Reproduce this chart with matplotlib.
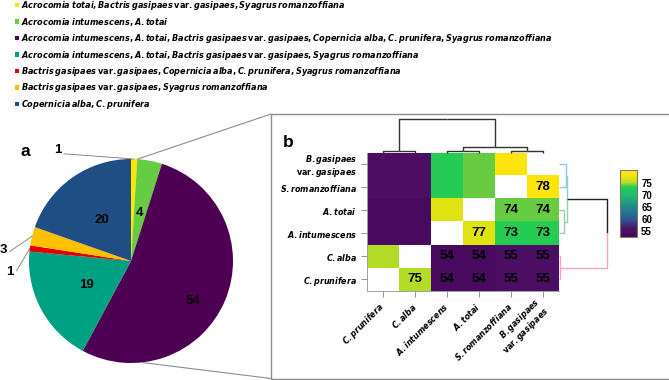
import matplotlib
matplotlib.use("Agg")
import matplotlib.pyplot as plt  # noqa: E402
import numpy as np  # noqa: E402
from matplotlib.colors import LinearSegmentedColormap  # noqa: E402
from matplotlib.patches import Rectangle, ConnectionPatch  # noqa: E402

W, H = 669, 380
NARROW = ["Liberation Sans Narrow", "Liberation Sans", "DejaVu Sans"]
plt.rcParams["font.family"] = NARROW
plt.rcParams["mathtext.fontset"] = "custom"
plt.rcParams["mathtext.it"] = "Liberation Sans Narrow:italic:bold"
plt.rcParams["mathtext.rm"] = "Liberation Sans Narrow:bold"
plt.rcParams["mathtext.bf"] = "Liberation Sans Narrow:bold"


def sp(parts):
    """Build one mathtext string from (text, italic) pieces."""
    out = []
    for txt, ital in parts:
        t = txt.replace(". ", ".").replace(", ", ",").replace(" ", r"\:")
        out.append((r"\mathit{" if ital else r"\mathrm{") + t + "}")
    return "$" + "".join(out) + "$"


BG = [("Bactris gasipaes", 1), (" var. ", 0), ("gasipaes", 1)]

# ---- panel a: shared accessions per species group ----
group_labels = [
    sp([("Acrocomia totai, ", 1)] + BG + [(", Syagrus romanzoffiana", 1)]),
    sp([("Acrocomia intumescens, A. totai", 1)]),
    sp([("Acrocomia intumescens, A. totai, ", 1)] + BG
       + [(", Copernicia alba, C. prunifera, Syagrus romanzoffiana", 1)]),
    sp([("Acrocomia intumescens, A. totai, ", 1)] + BG + [(", Syagrus romanzoffiana", 1)]),
    sp(BG + [(", Copernicia alba, C. prunifera, Syagrus romanzoffiana", 1)]),
    sp(BG + [(", Syagrus romanzoffiana", 1)]),
    sp([("Copernicia alba, C. prunifera", 1)]),
]
group_counts = [1, 4, 54, 19, 1, 3, 20]
group_colors = ["#ffe600", "#66cc44", "#4d0052", "#00a082", "#e00000", "#ffc000", "#1f4e85"]

# ---- panel b: pairwise similarity (%) ----
species = ["C. prunifera", "C. alba", "A. intumescens", "A. totai", "S. romanzoffiana", "B. gasipaes var. gasipaes"]
species_tick = [sp([("C. prunifera", 1)]), sp([("C. alba", 1)]), sp([("A. intumescens", 1)]),
                sp([("A. totai", 1)]), sp([("S. romanzoffiana", 1)]),
                sp([("B. gasipaes", 1)]) + "\n" + sp([("var. ", 0), ("gasipaes", 1)])]
sim_pairs = [
    ("C. prunifera", "C. alba", 75), ("C. prunifera", "A. intumescens", 54),
    ("C. prunifera", "A. totai", 54), ("C. prunifera", "S. romanzoffiana", 55),
    ("C. prunifera", "B. gasipaes var. gasipaes", 55),
    ("C. alba", "A. intumescens", 54), ("C. alba", "A. totai", 54),
    ("C. alba", "S. romanzoffiana", 55), ("C. alba", "B. gasipaes var. gasipaes", 55),
    ("A. intumescens", "A. totai", 77), ("A. intumescens", "S. romanzoffiana", 73),
    ("A. intumescens", "B. gasipaes var. gasipaes", 73),
    ("A. totai", "S. romanzoffiana", 74), ("A. totai", "B. gasipaes var. gasipaes", 74),
    ("S. romanzoffiana", "B. gasipaes var. gasipaes", 78),
]
# dendrograms: (child a, child b, relative height), scipy-like numbering
top_merges = [(0, 1, 0.03), (2, 3, 0.03), (4, 5, 0.03), (7, 8, 0.15), (6, 9, 1.0)]
right_merges = [(0, 1, 0.15), (2, 3, 0.11), (4, 5, 0.02), (6, 7, 0.17), (9, 8, 1.0)]
cbar_ticks = [55, 60, 65, 70, 75]

n = len(species)
S = np.full((n, n), np.nan)
for a, b, v in sim_pairs:
    i, j = species.index(a), species.index(b)
    S[i, j] = S[j, i] = v
M = S[::-1, :]  # rows shown in reverse order of columns


def fx(px):
    return px / W


def fy(py):
    return 1 - py / H


fig = plt.figure(figsize=(W / 100, H / 100), dpi=100)

# legend (manual, top-left)
for k, (lab, col) in enumerate(zip(group_labels, group_colors)):
    yc = 5 + k * 16.5
    fig.patches.append(Rectangle((fx(15), fy(yc + 2)), 4 / W, 4 / H, transform=fig.transFigure,
                                 color=col, lw=0))
    fig.text(fx(21), fy(yc + 3.0), lab, fontsize=5.85, va="baseline", ha="left")

# pie
ax_pie = fig.add_axes([fx(29), fy(363), 204 / W, 204 / H])
wedges, _ = ax_pie.pie(group_counts, colors=group_colors, startangle=90, counterclock=False,
                       wedgeprops=dict(linewidth=0))
ax_pie.set_xlim(-1, 1)
ax_pie.set_ylim(-1, 1)
ax_pie.axis("off")

inside_r = [None, 0.48, 0.72, 0.5, None, None, 0.49]
inside_dtheta = [0, 0, -10, 0, 0, 0, 0]
outside_xy = {0: (-0.716, 1.088), 4: (-1.186, -0.108), 5: (-1.255, 0.108)}
for k, w in enumerate(wedges):
    mid = np.deg2rad((w.theta1 + w.theta2) / 2 + inside_dtheta[k])
    if inside_r[k] is not None:
        ax_pie.text(inside_r[k] * np.cos(mid), inside_r[k] * np.sin(mid), str(group_counts[k]),
                    ha="center", va="center", fontsize=9.5, fontweight="bold", family="Liberation Sans")
    elif k in outside_xy:
        ax_pie.annotate(str(group_counts[k]), xy=(np.cos(mid), np.sin(mid)), xytext=outside_xy[k],
                        ha="center", va="center", fontsize=9.5, fontweight="bold",
                        family="Liberation Sans", annotation_clip=False,
                        arrowprops=dict(arrowstyle="-", color="#777777", lw=0.6,
                                        shrinkA=0, shrinkB=0, relpos=(1, 0.2)))
fig.text(fx(25), fy(151), "a", fontsize=12.5, fontweight="bold", family="Liberation Sans",
         ha="center", va="center")

# zoom box and connectors
fig.patches.append(Rectangle((fx(271), fy(378.5)), 1.0, fy(114) - fy(378.5), transform=fig.transFigure,
                             fill=False, ec="#8c8c8c", lw=1.0))
t_top = np.deg2rad(wedges[0].theta1)
for (ang, py) in [(t_top, 114), (np.deg2rad(-84), 378.5)]:
    fig.add_artist(ConnectionPatch(xyA=(np.cos(ang), np.sin(ang)), coordsA=ax_pie.transData,
                                   xyB=(fx(271), fy(py)), coordsB=fig.transFigure,
                                   color="#8c8c8c", lw=0.8))
fig.text(fx(288), fy(142), "b", fontsize=12.5, fontweight="bold", family="Liberation Sans",
         ha="center", va="center")

# heatmap
cmap = LinearSegmentedColormap.from_list("sim", [
    (0.0, "#45065a"), ((56 - 52.6) / 27.6, "#4e1266"), ((60 - 52.6) / 27.6, "#2e5896"),
    ((65 - 52.6) / 27.6, "#1f8a8c"), ((70 - 52.6) / 27.6, "#20bc6c"), ((73 - 52.6) / 27.6, "#22cc55"),
    ((74 - 52.6) / 27.6, "#66cc44"), ((75 - 52.6) / 27.6, "#b2dc26"), ((77 - 52.6) / 27.6, "#e0e212"),
    ((78 - 52.6) / 27.6, "#fde40a"), (1.0, "#fde725")])
cmap.set_bad("white")
ax_hm = fig.add_axes([fx(367), fy(291), 192 / W, 138.5 / H])
im = ax_hm.imshow(M, cmap=cmap, vmin=52.6, vmax=80.2, aspect="auto", interpolation="nearest")
for r in range(n):
    for c in range(n):
        if r + c > n - 1:
            ax_hm.text(c, r, f"{M[r, c]:.0f}", ha="center", va="center", fontsize=9.5,
                       fontweight="bold", family="Liberation Sans")
ax_hm.set_xticks(range(n))
ax_hm.set_xticklabels(species_tick, rotation=45, ha="right", va="center", rotation_mode="anchor",
                      multialignment="right", linespacing=1.0)
ax_hm.set_yticks(range(n))
ax_hm.set_yticklabels(species_tick[::-1], multialignment="right", linespacing=0.95)
ax_hm.tick_params(length=4, width=0.7, color="#909090", labelsize=5.8, pad=3)
ax_hm.tick_params(axis="x", pad=6)
for side in ["top", "right"]:
    ax_hm.spines[side].set_visible(False)
for side in ["left", "bottom"]:
    ax_hm.spines[side].set_color("#a0a0a0")
    ax_hm.spines[side].set_linewidth(0.7)


def draw_dendro(ax, merges, colors, vertical):
    pos = list(range(n))
    hgt = [0.0] * n
    for (a, b, h), col in zip(merges, colors):
        ca, cb = col if isinstance(col, tuple) else (col, col)
        mid = (pos[a] + pos[b]) / 2
        arms = [([pos[a], pos[a], mid], [hgt[a], h, h], ca), ([mid, pos[b], pos[b]], [h, h, hgt[b]], cb)]
        for xs, ys, cc in arms:
            if vertical:
                ax.plot(xs, ys, color=cc, lw=1.0, clip_on=False, solid_capstyle="butt")
            else:
                ax.plot(ys, xs, color=cc, lw=1.0, clip_on=False, solid_capstyle="butt")
        pos.append(mid)
        hgt.append(h)


ax_top = fig.add_axes([fx(367), fy(152.5), 192 / W, 33.5 / H])
draw_dendro(ax_top, top_merges, ["#333333"] * 5, True)
ax_top.set_xlim(-0.5, n - 0.5)
ax_top.set_ylim(0, 1)
ax_top.axis("off")

ax_right = fig.add_axes([fx(559), fy(291), 48 / W, 138.5 / H])
draw_dendro(ax_right, right_merges,
            ["#8ec9e8", "#9ad0a8", "#f2a7ba", ("#8ec9e8", "#9ad0a8"), ("#222222", "#f2a7ba")], False)
ax_right.set_ylim(n - 0.5, -0.5)
ax_right.set_xlim(0, 1)
ax_right.axis("off")

# colorbar
cax = fig.add_axes([fx(620), fy(237), 17 / W, 67 / H])
cb = fig.colorbar(im, cax=cax, ticks=cbar_ticks)
cb.outline.set_edgecolor("#7a7a60")
cb.outline.set_linewidth(0.8)
cax.tick_params(length=0, labelsize=7, pad=3)
for t in cax.get_yticklabels():
    t.set_fontweight("bold")
    t.set_family("Liberation Sans")

fig.savefig("out.png", dpi=100)
